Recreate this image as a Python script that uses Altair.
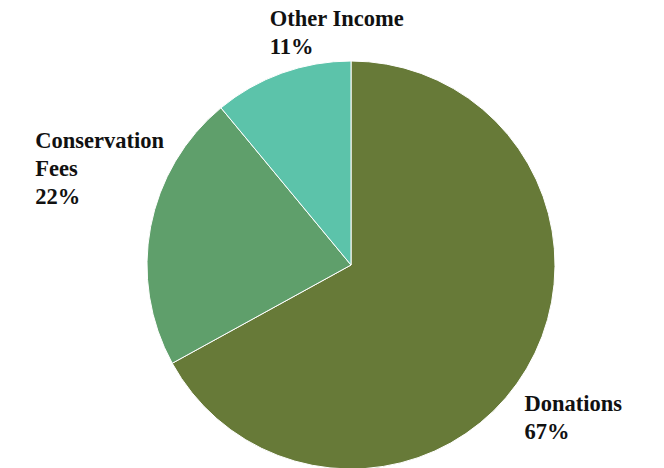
import altair as alt
import pandas as pd

categories = ["Donations", "Conservation Fees", "Other Income"]
values = [67, 22, 11]
colors = ["#677a38", "#5f9f6b", "#5cc3aa"]

df = pd.DataFrame({"category": categories, "value": values, "idx": list(range(len(categories)))})

CX, CY, R = 351, 265, 204
FONT = "Liberation Serif"

base = alt.Chart(df).encode(
    theta=alt.Theta("value:Q", stack=True),
    order=alt.Order("idx:Q"),
)

arcs = base.mark_arc(outerRadius=R, stroke="white", strokeWidth=1).encode(
    x=alt.value(CX),
    y=alt.value(CY),
    color=alt.Color("category:N", scale=alt.Scale(domain=categories, range=colors), legend=None),
)


def label_layer(cat, dx, dy, wrap=False):
    name = "replace(datum.category, ' ', '|')" if wrap else "datum.category"
    expr = f"datum.category == '{cat}' ? {name} + '|' + datum.value + '%' : ''"
    return base.transform_calculate(label=expr).mark_text(
        radius=240, align="left", baseline="top", dx=dx, dy=dy,
        font=FONT, fontSize=22.5, fontWeight="bold", color="#111111",
        lineBreak="|", lineHeight=28,
    ).encode(x=alt.value(CX), y=alt.value(CY), text="label:N")


chart = alt.layer(
    arcs,
    label_layer("Donations", -33, 6),
    label_layer("Conservation Fees", -80, -90, wrap=True),
    label_layer("Other Income", 0, -31),
).properties(
    width=664, height=468, padding=0, autosize=alt.AutoSizeParams(type="none"),
    background="white",
).configure_view(stroke=None)

chart.save("out.html", embed_options={"renderer": "svg", "actions": False})
